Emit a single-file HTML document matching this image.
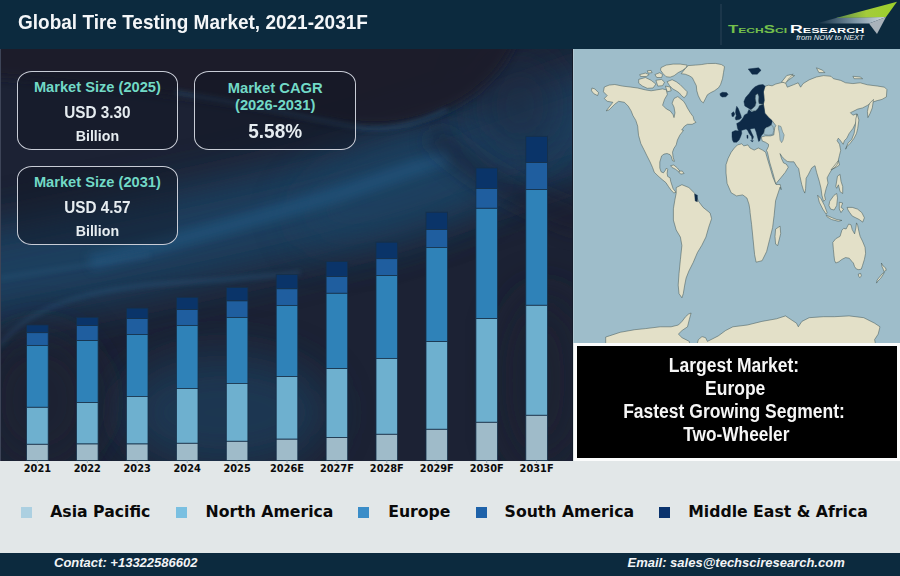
<!DOCTYPE html>
<html><head><meta charset="utf-8">
<style>
*{margin:0;padding:0;box-sizing:border-box}
html,body{width:900px;height:576px;overflow:hidden;background:#e2e7e8}
body{position:relative;font-family:"Liberation Sans",Arial,sans-serif}
#hdr{position:absolute;left:0;top:0;width:900px;height:48.5px;background:#0c2a3e}
#title{position:absolute;left:18px;top:11px;transform:scaleY(1.077);transform-origin:0 0;font-weight:bold;font-size:19px;color:#f4f6f8;white-space:nowrap;letter-spacing:0}
#logo{position:absolute;left:0;top:0;width:900px;height:48px}
#left{position:absolute;left:0;top:48.5px;width:573px;height:412px;background:#1c2233;overflow:hidden}
#bg{position:absolute;left:0;top:0}
.box{position:absolute;border:1.6px solid #c8ccd6;border-radius:15px/13px;background:rgba(18,22,36,0.45);text-align:center;color:#e6ecf0;font-weight:bold}
.box .t{color:#72d9c6}
.box div{transform:scaleY(1.09);transform-origin:50% 50%}
.box div.t{transform:none}
#chart{position:absolute;left:0;top:0}
#map{position:absolute;left:573px;top:48.5px;width:327px;height:294.5px;background:#9ebdca;overflow:hidden}
#frame{position:absolute;left:574px;top:343px;width:326px;height:118px;background:#fbfcfc}
#blk{position:absolute;left:577px;top:346px;width:320px;height:111.5px;background:#000;color:#f6f6f6;font-weight:bold;font-size:17.5px;text-align:center}
#blk div{position:absolute;left:0;width:314px;white-space:nowrap;transform:scaleY(1.14);transform-origin:0 0}
#legend{position:absolute;left:0;top:461px;width:900px;height:91px}
.sq{position:absolute;top:507px;width:11px;height:11px}
.lt{position:absolute;top:501.5px;font-family:"DejaVu Sans",sans-serif;font-weight:bold;font-size:15.7px;color:#0a0a0a;white-space:nowrap}
#ftr{position:absolute;left:0;top:552.5px;width:900px;height:23.5px;background:#0c2a3e;color:#f2f4f6;font-weight:bold;font-style:italic;font-size:13px}
#ftr span{position:absolute;top:2px;white-space:nowrap}
</style></head><body>
<div id="hdr"></div>
<div id="title">Global Tire Testing Market, 2021-2031F</div>
<svg id="logo" width="900" height="48" viewBox="0 0 900 48">
<defs>
<linearGradient id="lg1" x1="0" y1="0" x2="1" y2="0">
<stop offset="0" stop-color="#0e293d"/><stop offset="0.55" stop-color="#7a93a3"/><stop offset="1" stop-color="#d4dbe0"/>
</linearGradient>
<linearGradient id="lg2" x1="0" y1="0" x2="1" y2="0">
<stop offset="0" stop-color="#5d8a4a"/><stop offset="0.5" stop-color="#a4cc3a"/><stop offset="1" stop-color="#9ccf2a"/>
</linearGradient>
</defs>
<line x1="721" y1="4" x2="721" y2="45" stroke="#2a4257" stroke-width="1"/>
<polygon points="816,23.5 838,17.6 886,17 869,23.5" fill="url(#lg1)"/>
<polygon points="836,18.1 897,1.8 886,17" fill="url(#lg2)"/>
<polygon points="869,23.5 886,17 877,34" fill="#a9b2ba"/>
<text x="728" y="32.8" font-family="Liberation Sans, sans-serif" font-weight="bold" font-size="10.6" fill="#74c04c" textLength="59" lengthAdjust="spacingAndGlyphs">T<tspan font-size="7.6">ECH</tspan>S<tspan font-size="7.6">CI</tspan></text>
<text x="790" y="32.8" font-family="Liberation Sans, sans-serif" font-weight="bold" font-size="10.6" fill="#ffffff" textLength="74.5" lengthAdjust="spacingAndGlyphs">R<tspan font-size="7.6">ESEARCH</tspan></text>
<text x="796.2" y="40.1" font-family="Liberation Sans, sans-serif" font-style="italic" font-size="7" fill="#e8eef2" textLength="67.8" lengthAdjust="spacingAndGlyphs">from NOW to NEXT</text>
</svg>

<div id="left">
<svg id="bg" width="573" height="412" viewBox="0 48.5 573 412">
<defs>
<filter id="b20" x="-50%" y="-50%" width="200%" height="200%"><feGaussianBlur stdDeviation="22"/></filter>
<filter id="b10" x="-50%" y="-50%" width="200%" height="200%"><feGaussianBlur stdDeviation="10"/></filter>
<filter id="b6" x="-50%" y="-50%" width="200%" height="200%"><feGaussianBlur stdDeviation="5"/></filter>
<filter id="b3" x="-50%" y="-50%" width="200%" height="200%"><feGaussianBlur stdDeviation="2.5"/></filter>
</defs>
<rect x="0" y="48" width="573" height="413" fill="#1c2234"/>
<path d="M-60,285 C60,262 200,235 300,210 C400,185 500,150 640,100" stroke="#1f4264" stroke-width="95" fill="none" opacity="0.9" filter="url(#b20)"/>
<ellipse cx="400" cy="190" rx="110" ry="45" fill="#1f4262" opacity="0.55" transform="rotate(-18 400 190)" filter="url(#b20)"/>
<path d="M90,262 C170,243 250,220 330,196 C370,184 400,172 450,156" stroke="#245780" stroke-width="16" fill="none" opacity="0.6" filter="url(#b6)"/>
<path d="M440,140 C470,165 510,195 580,220" stroke="#1a1f2e" stroke-width="22" fill="none" opacity="0.55" stroke-linecap="round" filter="url(#b10)"/>
<ellipse cx="225" cy="412" rx="105" ry="58" fill="#1d3a56" opacity="0.85" filter="url(#b20)"/>
<ellipse cx="520" cy="105" rx="45" ry="55" fill="#1d2c42" opacity="0.6" filter="url(#b20)"/>
<path d="M-30,30 L-30,75 C60,80 200,95 300,115 C360,128 400,130 440,112 C480,95 505,70 520,30 Z" fill="#1a1c2b" opacity="0.9" filter="url(#b6)"/>
<path d="M175,92 C230,100 300,115 357,127 C390,132 420,122 447,109" stroke="#2a5577" stroke-width="3" fill="none" opacity="0.7" filter="url(#b3)"/>
<path d="M0,345 C30,305 90,287 180,282 C230,279 260,277 300,272" stroke="#2c5a80" stroke-width="3" fill="none" opacity="0.6" filter="url(#b3)"/>
<path d="M0,278 C50,270 100,262 150,255" stroke="#2c5a80" stroke-width="3" fill="none" opacity="0.5" filter="url(#b3)"/>
<ellipse cx="545" cy="380" rx="40" ry="90" fill="#1b2232" opacity="0.8" filter="url(#b20)"/>
<ellipse cx="40" cy="400" rx="60" ry="70" fill="#1b2131" opacity="0.7" filter="url(#b20)"/>
</svg>
<div style="position:absolute;left:0;top:0;width:1.3px;height:412px;background:#3d4457"></div>
</div>

<div class="box" style="left:16.6px;top:71.2px;width:161.6px;height:79px">
<div class="t" style="position:absolute;left:0;right:0;top:6.9px;font-size:14.65px">Market Size (2025)</div>
<div style="position:absolute;left:0;right:0;top:32px;font-size:15.3px">USD 3.30</div>
<div style="position:absolute;left:0;right:0;top:55.5px;font-size:14.2px">Billion</div>
</div>
<div class="box" style="left:194.2px;top:71.2px;width:162px;height:79px">
<div class="t" style="position:absolute;left:0;right:0;top:8.3px;font-size:14.75px;line-height:16.5px">Market CAGR<br>(2026-2031)</div>
<div style="position:absolute;left:0;right:0;top:47.4px;font-size:19px">5.58%</div>
</div>
<div class="box" style="left:16.6px;top:166.2px;width:161.6px;height:79px">
<div class="t" style="position:absolute;left:0;right:0;top:6.9px;font-size:14.65px">Market Size (2031)</div>
<div style="position:absolute;left:0;right:0;top:32px;font-size:15.3px">USD 4.57</div>
<div style="position:absolute;left:0;right:0;top:55.5px;font-size:14.2px">Billion</div>
</div>

<svg id="chart" width="900" height="576" viewBox="0 0 900 576">
<style>
.ap{fill:#9fbbc9}.na{fill:#6eb0cf}.eu{fill:#2f82b8}.sa{fill:#1f5e9f}.mea{fill:#0a3469}
#chart rect{stroke:#163049;stroke-width:0.8}
.yl{font-family:"DejaVu Sans",sans-serif;font-weight:bold;font-size:9.8px;fill:#0a0a0a;text-anchor:middle}
.tick{stroke:#9aa3aa;stroke-width:0.8}
</style>
<rect class="mea" x="26.6" y="325" width="21.6" height="7.7"/>
<rect class="sa" x="26.6" y="332.7" width="21.6" height="12.7"/>
<rect class="eu" x="26.6" y="345.4" width="21.6" height="61.9"/>
<rect class="na" x="26.6" y="407.3" width="21.6" height="37.0"/>
<rect class="ap" x="26.6" y="444.3" width="21.6" height="16.2"/>
<rect class="mea" x="76.5" y="317.3" width="21.6" height="8.3"/>
<rect class="sa" x="76.5" y="325.6" width="21.6" height="15.0"/>
<rect class="eu" x="76.5" y="340.6" width="21.6" height="61.9"/>
<rect class="na" x="76.5" y="402.5" width="21.6" height="41.5"/>
<rect class="ap" x="76.5" y="444" width="21.6" height="16.5"/>
<rect class="mea" x="126.4" y="308.1" width="21.6" height="10.5"/>
<rect class="sa" x="126.4" y="318.6" width="21.6" height="15.9"/>
<rect class="eu" x="126.4" y="334.5" width="21.6" height="61.9"/>
<rect class="na" x="126.4" y="396.4" width="21.6" height="47.6"/>
<rect class="ap" x="126.4" y="444" width="21.6" height="16.5"/>
<rect class="mea" x="176.4" y="297.3" width="21.6" height="12.3"/>
<rect class="sa" x="176.4" y="309.6" width="21.6" height="15.8"/>
<rect class="eu" x="176.4" y="325.4" width="21.6" height="63.1"/>
<rect class="na" x="176.4" y="388.5" width="21.6" height="54.8"/>
<rect class="ap" x="176.4" y="443.3" width="21.6" height="17.2"/>
<rect class="mea" x="226.3" y="287.5" width="21.6" height="13.4"/>
<rect class="sa" x="226.3" y="300.9" width="21.6" height="16.5"/>
<rect class="eu" x="226.3" y="317.4" width="21.6" height="66.0"/>
<rect class="na" x="226.3" y="383.4" width="21.6" height="57.9"/>
<rect class="ap" x="226.3" y="441.3" width="21.6" height="19.2"/>
<rect class="mea" x="276.2" y="274.5" width="21.6" height="14.3"/>
<rect class="sa" x="276.2" y="288.8" width="21.6" height="16.6"/>
<rect class="eu" x="276.2" y="305.4" width="21.6" height="71.1"/>
<rect class="na" x="276.2" y="376.5" width="21.6" height="62.7"/>
<rect class="ap" x="276.2" y="439.2" width="21.6" height="21.3"/>
<rect class="mea" x="326.1" y="261.5" width="21.6" height="15.1"/>
<rect class="sa" x="326.1" y="276.6" width="21.6" height="16.7"/>
<rect class="eu" x="326.1" y="293.3" width="21.6" height="75.3"/>
<rect class="na" x="326.1" y="368.6" width="21.6" height="68.9"/>
<rect class="ap" x="326.1" y="437.5" width="21.6" height="23.0"/>
<rect class="mea" x="376.0" y="242.2" width="21.6" height="16.5"/>
<rect class="sa" x="376.0" y="258.7" width="21.6" height="16.9"/>
<rect class="eu" x="376.0" y="275.6" width="21.6" height="82.8"/>
<rect class="na" x="376.0" y="358.4" width="21.6" height="75.9"/>
<rect class="ap" x="376.0" y="434.3" width="21.6" height="26.2"/>
<rect class="mea" x="426.0" y="212.2" width="21.6" height="17.3"/>
<rect class="sa" x="426.0" y="229.5" width="21.6" height="17.9"/>
<rect class="eu" x="426.0" y="247.4" width="21.6" height="94.2"/>
<rect class="na" x="426.0" y="341.6" width="21.6" height="87.7"/>
<rect class="ap" x="426.0" y="429.3" width="21.6" height="31.2"/>
<rect class="mea" x="475.9" y="168" width="21.6" height="20.5"/>
<rect class="sa" x="475.9" y="188.5" width="21.6" height="19.8"/>
<rect class="eu" x="475.9" y="208.3" width="21.6" height="110.3"/>
<rect class="na" x="475.9" y="318.6" width="21.6" height="103.7"/>
<rect class="ap" x="475.9" y="422.3" width="21.6" height="38.2"/>
<rect class="mea" x="525.8" y="136.3" width="21.6" height="26.3"/>
<rect class="sa" x="525.8" y="162.6" width="21.6" height="26.9"/>
<rect class="eu" x="525.8" y="189.5" width="21.6" height="115.8"/>
<rect class="na" x="525.8" y="305.3" width="21.6" height="110.0"/>
<rect class="ap" x="525.8" y="415.3" width="21.6" height="45.2"/>
<text class="yl" x="37.4" y="472">2021</text>
<line x1="37.4" y1="460.5" x2="37.4" y2="463" class="tick"/>
<text class="yl" x="87.3" y="472">2022</text>
<line x1="87.3" y1="460.5" x2="87.3" y2="463" class="tick"/>
<text class="yl" x="137.2" y="472">2023</text>
<line x1="137.2" y1="460.5" x2="137.2" y2="463" class="tick"/>
<text class="yl" x="187.2" y="472">2024</text>
<line x1="187.2" y1="460.5" x2="187.2" y2="463" class="tick"/>
<text class="yl" x="237.1" y="472">2025</text>
<line x1="237.1" y1="460.5" x2="237.1" y2="463" class="tick"/>
<text class="yl" x="287.0" y="472">2026E</text>
<line x1="287.0" y1="460.5" x2="287.0" y2="463" class="tick"/>
<text class="yl" x="336.9" y="472">2027F</text>
<line x1="336.9" y1="460.5" x2="336.9" y2="463" class="tick"/>
<text class="yl" x="386.8" y="472">2028F</text>
<line x1="386.8" y1="460.5" x2="386.8" y2="463" class="tick"/>
<text class="yl" x="436.8" y="472">2029F</text>
<line x1="436.8" y1="460.5" x2="436.8" y2="463" class="tick"/>
<text class="yl" x="486.7" y="472">2030F</text>
<line x1="486.7" y1="460.5" x2="486.7" y2="463" class="tick"/>
<text class="yl" x="536.6" y="472">2031F</text>
<line x1="536.6" y1="460.5" x2="536.6" y2="463" class="tick"/>
</svg>

<svg id="map" width="327" height="294.5" viewBox="573 48.5 327 294.5">
<style>
.l{fill:#e3e0c8;stroke:#3f5253;stroke-width:0.5;stroke-linejoin:round}
.d{fill:#0e2a47;stroke:#0e2a47;stroke-width:0.4;stroke-linejoin:round}
.w{fill:#9ebdca;stroke:#4b5d5e;stroke-width:0.4}
</style>
<path class="l" d="M603.4,91.3 L604.3,86.5 L609.1,84.6 L614.8,84.0 L622.5,85.6 L630.1,86.5 L637.7,87.5 L645.4,89.4 L651.1,90.3 L656.8,89.4 L662.6,88.4 L666.4,89.4 L667.3,94.1 L664.5,98.9 L662.6,104.7 L666.4,108.5 L670.2,110.4 L673.1,114.2 L674.0,117.1 L675.0,112.3 L674.0,106.6 L672.1,102.7 L674.0,98.0 L677.8,96.1 L683.6,100.8 L685.5,103.7 L687.4,107.5 L690.3,112.3 L693.1,116.1 L694.1,119.9 L696.0,121.8 L692.2,123.8 L687.4,123.8 L684.5,125.7 L681.7,129.5 L683.5,129.9 L679.8,134.7 L677.4,139.6 L676.2,144.4 L673.8,148.1 L672.5,151.7 L673.1,156.6 L674.4,160.9 L672.5,160.2 L671.3,156.0 L670.1,154.2 L667.1,153.0 L664.0,153.6 L661.6,155.4 L659.8,161.5 L659.8,167.5 L661.0,171.2 L663.4,172.4 L665.2,170.0 L666.5,167.5 L667.7,168.8 L667.1,173.0 L667.7,176.0 L670.1,177.3 L670.7,180.9 L671.9,184.5 L673.1,188.2 L675.0,190.6 L676.2,191.8 L673.8,192.4 L671.3,190.0 L668.3,185.8 L665.9,182.1 L662.2,179.1 L658.0,175.4 L654.3,171.8 L652.5,166.9 L650.1,161.5 L647.0,155.4 L644.0,149.3 L640.9,143.2 L638.5,134.7 L637.7,125.7 L635.8,119.9 L633.0,115.2 L631.1,110.4 L628.2,105.6 L624.4,101.8 L618.6,100.8 L614.8,103.7 L609.1,109.4 L606.2,110.4 L612.9,101.8 L607.2,100.8 L604.3,98.0 L607.2,95.1Z"/>
<path class="l" d="M591.9,87.5 L594.8,88.4 L598.6,92.2 L597.6,95.1 L593.8,93.2 L591.5,90.3Z"/>
<path class="l" d="M681.2,73.2 L685.2,68.1 L688.2,65.1 L695.3,64.6 L701.3,64.1 L707.4,63.1 L715.4,62.9 L721.5,64.1 L724.5,66.1 L723.5,72.1 L722.5,78.2 L720.5,84.2 L718.5,87.3 L714.4,90.3 L710.4,92.3 L707.4,94.3 L705.4,98.3 L703.3,102.4 L700.8,100.3 L698.3,95.3 L696.8,90.3 L696.3,85.2 L694.3,81.2 L692.3,77.2 L689.2,75.2 L685.2,73.7Z"/>
<path class="l" d="M661.0,67.1 L666.1,64.6 L673.1,63.6 L680.2,63.6 L687.2,64.6 L686.2,67.1 L682.2,70.1 L678.2,72.1 L674.1,75.2 L670.1,76.7 L666.1,76.2 L663.1,73.2 L660.5,69.6Z"/>
<path class="l" d="M667.1,81.2 L672.1,79.2 L676.2,81.2 L680.2,84.2 L684.2,88.3 L687.2,91.3 L686.7,94.3 L684.2,97.3 L681.7,95.3 L679.2,92.3 L676.2,90.3 L672.6,88.3 L669.6,85.2Z"/>
<path class="l" d="M638.7,78.9 L645.4,77.0 L651.1,79.8 L655.9,83.6 L653.0,87.5 L647.3,87.8 L642.5,85.6 L638.7,82.7Z"/>
<path class="l" d="M639.7,74.1 L645.4,72.6 L649.2,74.1 L646.3,76.0 L640.6,76.0Z"/>
<path class="l" d="M654.9,74.1 L659.7,72.2 L662.6,74.1 L661.6,77.0 L656.8,77.0Z"/>
<path class="l" d="M655.9,79.8 L661.6,78.9 L664.5,81.7 L662.6,85.2 L657.8,85.6Z"/>
<path class="l" d="M647.3,70.3 L651.1,69.9 L652.1,72.2 L648.2,72.6Z"/>
<path class="l" d="M665.4,85.6 L670.2,86.5 L671.2,90.3 L667.3,91.3Z"/>
<path class="l" d="M670.7,165.1 L673.8,164.5 L677.4,167.5 L679.8,170.6 L678.6,171.2 L675.6,168.8 L671.9,166.9Z"/>
<path class="l" d="M679.2,170.6 L682.3,170.6 L684.1,173.0 L681.0,173.6 L679.2,172.4Z"/>
<path class="l" d="M676.2,187.1 L681.9,184.2 L688.9,187.1 L694.6,192.7 L698.8,201.2 L703.1,206.9 L710.1,212.5 L711.6,218.2 L708.7,226.7 L705.9,236.6 L701.7,245.0 L697.4,252.1 L693.2,262.0 L688.9,270.5 L686.1,277.6 L684.7,284.6 L683.3,293.1 L681.9,297.3 L679.0,293.1 L678.2,284.6 L679.0,273.3 L680.4,259.2 L681.9,245.0 L680.4,236.6 L676.2,229.5 L673.4,219.6 L673.4,208.3 L674.8,199.8 L676.2,192.7Z"/>
<path class="l" d="M605.7,348.1 L605.7,336.5 L609.3,335.4 L620.2,331.8 L634.8,329.2 L645.7,328.1 L660.2,326.3 L671.1,326.3 L678.4,324.5 L682.0,320.9 L685.6,316.2 L688.5,313.6 L691.1,312.5 L689.3,319.1 L687.5,326.3 L682.0,330.0 L678.4,333.6 L682.0,337.2 L689.3,340.9 L690.0,348.1Z"/>
<path class="l" d="M695.8,348.1 L698.4,339.1 L702.0,336.1 L705.6,337.2 L707.4,340.9 L711.1,339.1 L718.3,335.4 L725.6,330.0 L732.9,326.3 L747.4,324.5 L761.9,320.9 L776.5,318.3 L785.5,315.4 L791.0,319.1 L796.5,322.7 L798.3,326.3 L801.9,320.9 L809.2,317.2 L823.7,316.2 L834.6,316.2 L849.1,315.4 L863.7,317.2 L874.6,322.7 L880.0,326.3 L878.2,333.6 L874.6,339.1 L876.4,348.1Z"/>
<path class="l" d="M737.5,144.4 L734.4,147.5 L731.2,151.7 L728.1,157.9 L726.0,164.2 L726.0,172.5 L727.1,182.9 L731.2,192.3 L736.5,195.4 L742.7,194.4 L746.9,197.5 L749.0,203.8 L750.0,210.0 L750.1,212.1 L751.6,224.1 L753.1,239.1 L754.6,254.1 L756.1,261.7 L762.1,260.2 L766.6,251.1 L769.6,239.1 L772.6,227.1 L774.1,215.1 L775.6,200.1 L780.1,186.5 L781.2,189.2 L780.2,184.0 L776.0,184.0 L772.9,176.7 L769.8,166.2 L766.7,155.8 L765.6,151.7 L762.5,149.6 L758.3,147.5 L754.2,149.6 L750.0,147.5 L747.9,144.4 L743.8,145.4 L741.7,143.3Z"/>
<path class="l" d="M775.6,228.6 L780.1,225.6 L780.7,233.1 L777.7,245.1 L775.6,243.6 L775.0,236.1Z"/>
<path class="l" d="M765.1,85.7 L768.5,84.7 L772.1,85.3 L775.8,83.5 L780.6,82.3 L785.0,81.1 L787.3,86.7 L793.4,84.3 L798.2,82.3 L800.6,86.7 L803.1,83.1 L809.1,79.4 L816.4,76.5 L823.7,75.1 L831.0,75.8 L833.4,78.2 L840.7,79.9 L845.6,82.3 L852.9,83.1 L860.2,82.3 L867.4,84.3 L877.2,85.5 L884.5,86.7 L886.9,89.1 L886.4,96.4 L882.0,98.9 L877.2,100.1 L873.5,101.3 L871.1,102.5 L867.4,104.9 L862.6,107.4 L857.7,108.6 L852.9,111.0 L850.4,112.2 L852.9,114.7 L856.5,113.4 L857.7,118.3 L855.3,123.2 L852.9,128.0 L849.2,132.9 L846.8,137.7 L844.4,140.2 L843.2,143.8 L839.5,138.9 L838.3,137.7 L837.1,140.2 L839.5,143.8 L840.7,149.9 L839.5,154.7 L838.3,159.6 L839.5,164.5 L835.9,166.9 L831.0,169.3 L838.4,160.0 L837.5,163.5 L834.9,166.9 L831.5,169.5 L828.9,173.9 L827.1,177.4 L828.0,182.6 L826.2,187.8 L824.5,194.7 L825.4,199.1 L823.6,200.8 L821.9,194.7 L821.0,187.8 L819.3,180.8 L816.7,172.2 L815.0,165.2 L814.3,165.6 L811.7,167.4 L808.2,174.3 L806.1,177.8 L805.6,188.2 L804.8,192.6 L803.5,190 L801.7,183.9 L800,176.1 L798.7,168.2 L796.5,165.6 L793.9,161.3 L790,161.3 L787.3,160.9 L785.2,159.4 L782.1,156.2 L780.0,153.1 L781.6,158.3 L783.6,162.5 L786.2,163.5 L788.3,166.7 L785.2,171.9 L781.0,177.1 L775.8,183.3 L772.7,171.9 L769.6,161.5 L767.5,152.1 L766.5,150.0 L768.5,145.8 L768.5,143.8 L765.4,141.7 L762.3,140.6 L761.2,136.5 L765.4,135.4 L770.6,135.4 L773.8,134.4 L774.3,130.2 L774.8,127.1 L775.8,125.0 L772.1,120.2 L768.5,116.9 L764.8,112.7 L764.2,108.4 L763.4,103.6 L764.2,99.9 L763.9,95.7 L763.4,91.4 L764.2,88.4Z"/>
<path class="l" d="M817.6,194.7 L821.0,198.2 L824.5,205.1 L827.1,212.1 L826.2,213.8 L822.8,208.6 L819.3,201.7Z"/>
<path class="l" d="M826.2,214.7 L832.3,217.3 L836.7,219.0 L841.9,219.9 L838.4,220.8 L831.5,219.0 L827.1,216.4Z"/>
<path class="l" d="M829.7,200.8 L834.1,194.7 L836.7,193.0 L837.5,197.3 L836.7,205.1 L834.1,209.5 L830.6,208.6 L828.9,205.1Z"/>
<path class="l" d="M839.3,201.7 L842.7,202.5 L841.0,206.9 L843.6,208.6 L841.0,212.1 L839.3,208.6Z"/>
<path class="l" d="M837.5,175.6 L840.1,173.9 L841.0,180.8 L842.7,186.0 L842.7,193.0 L840.1,191.2 L838.4,184.3 L836.7,187.8 L835.8,186.0Z"/>
<path class="l" d="M847.1,206.9 L852.3,206.9 L857.5,208.6 L861.8,212.1 L864.4,217.3 L862.7,221.6 L859.2,219.0 L855.8,217.3 L852.3,215.6 L849.7,212.1 L848.0,209.5Z"/>
<path class="l" d="M832.8,241.9 L835.8,238.2 L840.1,235.8 L841.9,229.7 L843.7,227.9 L846.1,228.5 L848.6,223.6 L851.0,224.3 L852.2,229.1 L854.6,233.4 L855.9,227.3 L856.5,222.4 L857.7,224.9 L858.9,230.9 L860.1,235.8 L862.5,240.7 L865.0,246.7 L865.6,252.8 L864.4,258.9 L862.5,265.0 L861.3,268.6 L858.9,269.2 L856.5,268.6 L854.6,266.2 L853.4,262.5 L852.2,261.3 L849.2,257.7 L845.5,257.1 L841.9,258.9 L838.8,261.3 L835.8,262.5 L834.6,260.1 L834.0,255.2 L833.4,249.2Z"/>
<path class="l" d="M858.3,273.5 L860.7,272.9 L861.3,275.3 L860.1,277.1 L858.6,275.9Z"/>
<path class="l" d="M881.4,262.5 L883.2,265.6 L885.6,267.4 L886.2,269.8 L883.8,271.0 L883.2,268.6 L882.0,266.2Z"/>
<path class="l" d="M884.4,271.6 L883.2,274.1 L880.8,277.7 L877.7,280.8 L876.5,282.6 L877.1,279.5 L879.5,276.5 L882.0,273.5Z"/>
<path class="l" d="M857.2,113.4 L858.9,119.5 L857.7,128.0 L856.5,132.9 L854.1,137.7 L850.4,142.6 L846.8,146.2 L845.6,148.7 L848.0,142.6 L851.7,138.9 L854.1,132.9 L855.3,125.6 L855.8,118.3Z"/>
<path class="l" d="M869.9,102.5 L873.5,98.9 L872.3,107.4 L869.9,113.4 L867.9,117.1 L867.4,111.0 L868.7,104.9Z"/>
<path class="l" d="M816.4,67.3 L822.5,69.7 L824.9,72.1 L818.9,72.1Z"/>
<path class="l" d="M852.9,75.8 L860.2,76.5 L862.6,78.2 L854.1,78.2Z"/>
<path class="l" d="M783.6,81.9 L789.7,74.6 L794.6,75.1 L787.3,80.6Z"/>
<path class="l" d="M781.6,81.4 L786.8,75.0 L793.2,73.7 L789.3,77.5 L785.5,82.7Z"/>
<path class="d" d="M744.8,105.4 L743.9,101.1 L745.6,97.1 L749.0,93.2 L752.1,89.0 L755.1,86.2 L758.8,84.5 L763.0,84.0 L765.1,85.7 L764.2,88.4 L763.4,91.4 L763.9,95.7 L764.2,99.9 L763.4,103.6 L764.2,108.4 L764.8,112.7 L768.5,116.9 L772.1,120.2 L771.9,122.2 L771.1,124.5 L768.8,126.1 L766.4,126.9 L764.8,128.4 L764.1,131.6 L763.3,133.1 L761.7,134.7 L760.9,136.2 L759.8,140.2 L758.6,140.9 L757.8,137.8 L757.0,134.7 L756.2,131.6 L754.7,127.7 L750.0,128.4 L751.6,132.3 L753.5,136.2 L753.1,137.8 L752.0,139.4 L751.6,136.2 L749.2,133.1 L747.7,130.0 L746.1,128.4 L743.8,129.2 L741.4,130.0 L741.8,132.7 L740.6,136.2 L739.1,139.4 L736.7,141.7 L733.6,141.7 L732.4,139.4 L732.0,136.2 L732.0,131.6 L735.2,130.0 L738.7,130.4 L737.5,127.7 L736.7,123.0 L739.1,121.8 L740.6,120.6 L743.0,117.5 L744.5,114.4 L747.7,112.8 L747.8,111.5 L749.0,109.0 L751.5,111.5 L753.9,110.9Z"/>
<path class="d" d="M736.7,105.8 L738.3,108.1 L739.8,112.0 L741.0,115.2 L741.4,117.5 L739.1,119.1 L735.9,119.5 L735.2,117.5 L736.3,115.2 L735.5,112.0 L735.9,108.9Z"/>
<path class="d" d="M731.6,112.8 L733.6,111.2 L734.8,113.6 L733.6,115.9 L732.0,115.9Z"/>
<path class="d" d="M750.6,140.0 L753.3,140.2 L752.3,141.4Z"/>
<path class="d" d="M746.9,134.7 L748.0,134.8 L748.0,137.8 L747.0,137.7Z"/>
<path class="d" d="M719.9,93.2 L722.3,91.8 L726.5,92.0 L728.1,93.8 L725.9,96.3 L722.3,96.6 L720.5,95.4Z"/>
<path class="d" d="M748.2,68.5 L758.5,67.3 L761.1,69.8 L757.2,73.7 L752.1,73.7Z"/>
<path class="d" d="M694.6,193.6 L697.4,194.7 L697.4,201.2 L695.2,200.4Z"/>
<path class="w" d="M755.7,94.4 L757.8,93.2 L758.8,96.3 L758.5,100.5 L759.0,103.2 L763.0,103.7 L759.4,105.1 L758.1,107.8 L755.7,110.2 L752.1,110.5 L750.9,109.3 L752.9,107.8 L755.1,105.6 L756.1,102.3 L755.3,98.1Z"/>
<path class="w" d="M764.8,128.4 L766.4,127.0 L768.9,126.2 L771.1,124.7 L773.0,125.7 L773.8,130.0 L772.7,133.9 L768.8,134.7 L765.6,134.3 L763.7,133.3 L764.2,131.4Z"/>
<path class="w" d="M778.4,125.0 L781.0,126.0 L782.6,131.2 L784.2,134.4 L783.1,139.6 L781.6,142.2 L780.0,139.6 L779.5,133.3 L778.4,128.1Z"/>
</svg>

<div style="position:absolute;left:573px;top:48.5px;width:1.3px;height:294.5px;background:#b2c9d4"></div>
<div style="position:absolute;left:572px;top:48.5px;width:1px;height:412px;background:#141c2a"></div>
<div id="frame"></div>
<div id="blk">
<div style="top:7.9px">Largest Market:</div>
<div style="top:31.2px;left:1.2px">Europe</div>
<div style="top:54.2px">Fastest Growing Segment:</div>
<div style="top:77.2px;left:2.4px;font-size:17.25px">Two-Wheeler</div>
</div>

<div class="sq" style="left:21px;background:#acd0e1"></div>
<div class="lt" style="left:50.2px">Asia Pacific</div>
<div class="sq" style="left:176px;background:#7ac0e1"></div>
<div class="lt" style="left:205.5px">North America</div>
<div class="sq" style="left:358px;background:#3a8dc8"></div>
<div class="lt" style="left:388.2px">Europe</div>
<div class="sq" style="left:476px;background:#1e62a9"></div>
<div class="lt" style="left:504.6px">South America</div>
<div class="sq" style="left:659px;background:#0a336d"></div>
<div class="lt" style="left:688.2px">Middle East &amp; Africa</div>

<div id="ftr"><span style="left:54px">Contact: +13322586602</span><span style="left:627.5px">Email: sales@techsciresearch.com</span></div>
</body></html>
